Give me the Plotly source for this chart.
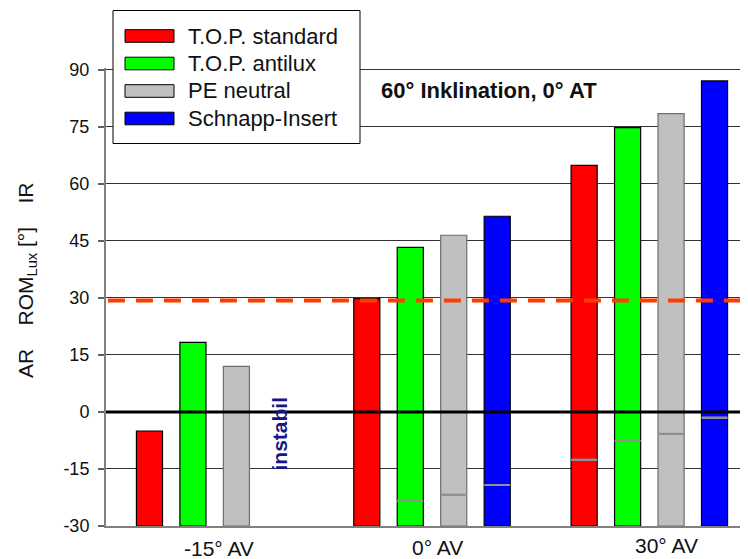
import plotly.graph_objects as go

# ---- data -------------------------------------------------------------
categories = ["-15° AV", "0° AV", "30° AV"]
series_names = ["T.O.P. standard", "T.O.P. antilux", "PE neutral", "Schnapp-Insert"]

# upper end of each bar (IR)
ir_standard = [-5.0, 29.8, 64.9]
ir_antilux = [18.3, 43.3, 74.8]
ir_pe = [12.0, 46.5, 78.5]
ir_schnapp = [None, 51.5, 87.1]

# marked level inside each bar (AR)
ar_standard = [None, None, -12.5]
ar_antilux = [None, -23.3, -7.6]
ar_pe = [None, -21.7, -5.7]
ar_schnapp = [None, -19.2, -1.4]

y_ticks = [-30, -15, 0, 15, 30, 45, 60, 75, 90]
limit_value = 29.3
title_text = "60° Inklination, 0° AT"
instabil_text = "instabil"

# ---- style ------------------------------------------------------------
FONT = "Liberation Sans, Arial, sans-serif"
fills = ["#ff0000", "#00ff00", "#c0c0c0", "#0000ff"]
outlines = ["#000000", "#000000", "#6e6e6e", "#000000"]
PAGE_OFF = 8                      # default page margin around the figure
W, H = 748 - PAGE_OFF, 559 - PAGE_OFF
ML, MR, MT, MB = 106 - PAGE_OFF, 0, 68 - PAGE_OFF, 33
PW, PH = W - ML - MR, H - MT - MB
Y_MIN, Y_MAX = -30, 90.5


def px_x(px):
    return (px - PAGE_OFF - ML) / PW


def px_y(py):
    return (H - MB - (py - PAGE_OFF)) / PH


ir_all = [ir_standard, ir_antilux, ir_pe, ir_schnapp]
ar_all = [ar_standard, ar_antilux, ar_pe, ar_schnapp]

fig = go.Figure()
for name, ir, ar, fc, lc in zip(series_names, ir_all, ar_all, fills, outlines):
    fig.add_trace(go.Bar(
        x=categories,
        y=[None if v is None else v - Y_MIN for v in ir],
        base=Y_MIN,
        name=name,
        offsetgroup=name,
        marker=dict(color=fc, line=dict(color=lc, width=1.2)),
        showlegend=False,
    ))
    fig.add_trace(go.Bar(
        x=categories,
        y=[None if a is None else 0.45 for a in ar],
        base=[None if a is None else a - 0.225 for a in ar],
        name=name + " AR",
        offsetgroup=name,
        marker=dict(color="#909090", line=dict(width=0)),
        showlegend=False,
    ))

shapes = []
# zero line
shapes.append(dict(type="line", xref="paper", yref="y", x0=0, x1=1, y0=0, y1=0,
                   line=dict(color="#000000", width=3), layer="above"))
# dashed limit line
shapes.append(dict(type="line", xref="paper", yref="y", x0=0.003, x1=1,
                   y0=limit_value, y1=limit_value,
                   line=dict(color="#ff3c00", width=4, dash="17px,11px"), layer="above"))

# manual legend
shapes.append(dict(type="rect", xref="paper", yref="paper",
                   x0=px_x(113), x1=px_x(360), y0=px_y(143.5), y1=px_y(10.5),
                   fillcolor="#ffffff", line=dict(color="#000000", width=1), layer="above"))
annotations = []
for i, (name, fc) in enumerate(zip(series_names, fills)):
    cy = 36 + 27.5 * i
    shapes.append(dict(type="rect", xref="paper", yref="paper",
                       x0=px_x(125), x1=px_x(174), y0=px_y(cy + 6.3), y1=px_y(cy - 6.3),
                       fillcolor=fc, line=dict(color="#000000", width=1), layer="above"))
    annotations.append(dict(text=name, xref="paper", yref="paper",
                            x=px_x(186), y=px_y(cy), xanchor="left", yanchor="middle",
                            showarrow=False, font=dict(family=FONT, size=22, color="#111111")))

# title inside plot
annotations.append(dict(text="<b>" + title_text + "</b>", xref="paper", yref="paper",
                        x=px_x(379), y=px_y(91), xanchor="left", yanchor="middle",
                        showarrow=False, font=dict(family=FONT, size=22, color="#111111")))
# instabil
annotations.append(dict(text="<b>" + instabil_text + "</b>", xref="x", yref="y",
                        x=0.3, y=-5.7, textangle=-90, xanchor="center", yanchor="middle",
                        showarrow=False, font=dict(family=FONT, size=21, color="#16168a")))
# y axis title
annotations.append(dict(text="AR\u00a0\u00a0\u00a0\u00a0ROM<sub>Lux</sub>\u00a0[°]\u00a0\u00a0\u00a0\u00a0IR",
                        xref="paper", yref="paper", x=px_x(27), y=px_y(281),
                        textangle=-90, xanchor="center", yanchor="middle",
                        showarrow=False, font=dict(family=FONT, size=21, color="#111111")))
# x category labels
x_label_shift = [4, 5, 17]
x_label_y = [548, 547.5, 545]
for i, (cat, dx, ly) in enumerate(zip(categories, x_label_shift, x_label_y)):
    annotations.append(dict(text=cat, xref="x", yref="paper", x=i, y=px_y(ly),
                            xshift=dx, xanchor="center", yanchor="middle", borderpad=0,
                            showarrow=False, font=dict(family=FONT, size=21, color="#111111")))

fig.update_layout(
    width=W, height=H,
    margin=dict(l=ML, r=MR, t=MT, b=MB, pad=0),
    paper_bgcolor="#ffffff", plot_bgcolor="#ffffff",
    barmode="group", bargap=0.2, bargroupgap=0.4,
    shapes=shapes, annotations=annotations,
    showlegend=False,
    font=dict(family=FONT, color="#111111"),
    xaxis=dict(type="category", categoryorder="array", categoryarray=categories,
               range=[-0.5, 2.454], showticklabels=False, ticks="",
               showgrid=False, zeroline=False,
               showline=True, linecolor="#808080", linewidth=2),
    yaxis=dict(range=[Y_MIN, Y_MAX], tickvals=y_ticks, ticktext=[str(v) for v in y_ticks],
               ticks="outside", ticklen=6, tickwidth=1.5, tickcolor="#606060",
               ticklabelstandoff=5,
               tickfont=dict(family=FONT, size=18, color="#111111"),
               showgrid=True, gridcolor="#333333", gridwidth=1,
               zeroline=False,
               showline=True, linecolor="#808080", linewidth=2),
)

fig.write_html("out.html")
